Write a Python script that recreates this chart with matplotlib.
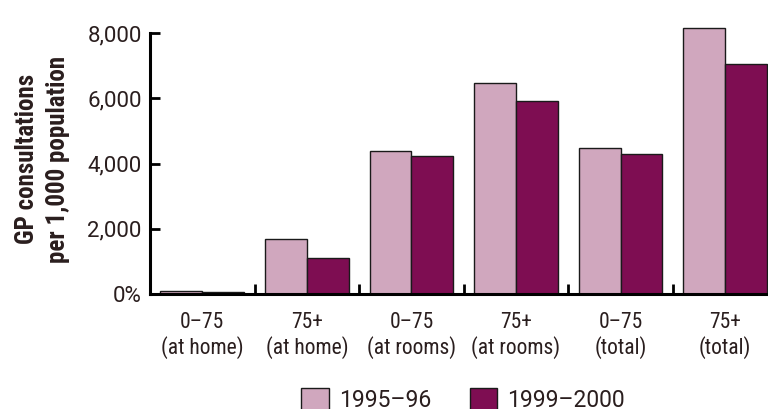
import matplotlib
matplotlib.use("Agg")
import matplotlib.pyplot as plt
from matplotlib.patches import Patch
import logging

logging.getLogger("matplotlib.font_manager").setLevel(logging.ERROR)

# values
groups = ["0\u201375\n(at home)", "75+\n(at home)", "0\u201375\n(at rooms)",
          "75+\n(at rooms)", "0\u201375\n(total)", "75+\n(total)"]
y1995 = [80, 1690, 4390, 6460, 4470, 8160]
y1999 = [50, 1095, 4220, 5925, 4285, 7040]
series = ["1995\u201396", "1999\u20132000"]
yticks = [0, 2000, 4000, 6000, 8000]
ytick_labels = ["0%", "2,000", "4,000", "6,000", "8,000"]

pink = "#D0A7BE"
maroon = "#7E0D52"
ink = "#2A1E1E"

narrow = ["Roboto Condensed", "Archivo Narrow", "Liberation Sans Narrow", "DejaVu Sans"]
wide = ["Roboto", "DejaVu Sans"]
plt.rcParams["font.family"] = narrow

fig = plt.figure(figsize=(7.68, 4.09), dpi=100)
ax = fig.add_axes([150 / 768, 1 - 294 / 409, 1 - 150 / 768, (294 - 33) / 409])

w = 0.4
x = list(range(len(groups)))
ax.bar([i - w / 2 for i in x], y1995, width=w, color=pink, edgecolor="#1a1a1a",
       linewidth=1, clip_on=False, zorder=2)
ax.bar([i + w / 2 for i in x], y1999, width=w, color=maroon, edgecolor="#1a1a1a",
       linewidth=1, clip_on=False, zorder=2)

ax.set_xlim(-0.5, 5.41)
ax.set_ylim(0, 8000)
ax.set_yticks(yticks)
ax.set_yticklabels(ytick_labels, family=wide)
ax.set_xticks(x)
ax.set_xticklabels(groups, linespacing=1.15)
ax.set_xticks([i + 0.5 for i in x[:-1]], minor=True)

ax.tick_params(axis="y", direction="in", length=7, width=2, pad=6,
               labelsize=16, labelcolor=ink, colors="black")
ax.tick_params(axis="x", which="major", length=0, pad=13, labelsize=15.5, labelcolor=ink)
ax.tick_params(axis="x", which="minor", direction="in", length=7, width=2, color="black")

for s in ["top", "right"]:
    ax.spines[s].set_visible(False)
for s in ["left", "bottom"]:
    ax.spines[s].set_linewidth(2.2)
    ax.spines[s].set_color("black")
    ax.spines[s].set_zorder(3)

fig.text(0.055, 1 - 159 / 409, "GP consultations\nper 1,000 population",
         rotation=90, ha="center", va="center", fontsize=18, fontweight="bold",
         color=ink, linespacing=1.35)

handles = [Patch(facecolor=pink, edgecolor="#1a1a1a", linewidth=1),
           Patch(facecolor=maroon, edgecolor="#1a1a1a", linewidth=1)]
fig.legend(handles, series, loc="upper center", bbox_to_anchor=(463 / 768, 1 - 388 / 409),
           ncol=2, frameon=False, prop={"family": wide, "size": 16.5},
           handlelength=1.2, handleheight=1.2, handletextpad=0.44,
           columnspacing=1.7, borderpad=0, borderaxespad=0, labelcolor=ink)

fig.savefig("out.png", dpi=100)
